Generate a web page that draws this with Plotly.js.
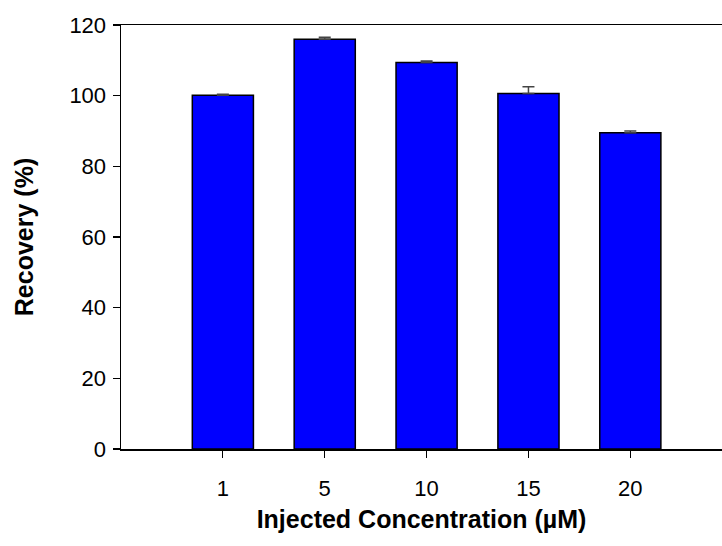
<!DOCTYPE html>
<html>
<head>
<meta charset="utf-8">
<script src="https://cdn.plot.ly/plotly-3.0.1.min.js"></script>
<style>html,body{margin:0;padding:0;background:#fff;}#chart{width:722px;height:546px;}</style>
</head>
<body>
<div id="chart"></div>
<script>
const categories = ["1", "5", "10", "15", "20"];
const recovery = [100.1, 116.0, 109.4, 100.6, 89.5];
const errorPlus = [0.3, 0.5, 0.4, 1.9, 0.5];
const yTickValues = [0, 20, 40, 60, 80, 100, 120];
const xTitle = "Injected Concentration (µM)";
const yTitle = "Recovery (%)";

const trace = {
  type: "bar",
  x: categories.map((c, i) => i),
  y: recovery,
  width: 0.6,
  marker: {color: "#0000FF", line: {color: "#000000", width: 1.5}},
  error_y: {type: "data", symmetric: false, array: errorPlus, arrayminus: errorPlus.map(() => 0),
            color: "#444444", thickness: 1.5, width: 6},
  hoverinfo: "none"
};

const layout = {
  width: 722, height: 546,
  margin: {l: 121, r: 0, t: 25, b: 97},
  paper_bgcolor: "#ffffff", plot_bgcolor: "#ffffff",
  showlegend: false,
  font: {family: "Liberation Sans, Arial, sans-serif", color: "#000000", size: 22},
  xaxis: {
    range: [-1, 4.9],
    tickvals: categories.map((c, i) => i),
    ticktext: categories,
    ticks: "outside", ticklen: 7, tickwidth: 1.2, tickcolor: "#000",
    ticklabelstandoff: 12,
    showline: true, linecolor: "#000", linewidth: 1.5, mirror: true,
    showgrid: false, zeroline: false,
    tickfont: {size: 22},
    title: {text: xTitle, font: {size: 25, family: "Liberation Sans, Arial, sans-serif", weight: "bold"}, standoff: 10}
  },
  yaxis: {
    range: [0, 120],
    tickvals: yTickValues,
    ticks: "outside", ticklen: 7, tickwidth: 1.2, tickcolor: "#000",
    ticklabelstandoff: 2,
    showline: true, linecolor: "#000", linewidth: 1.5,
    showgrid: false, zeroline: false,
    tickfont: {size: 22},
    title: {text: yTitle, font: {size: 25, family: "Liberation Sans, Arial, sans-serif", weight: "bold"}, standoff: 28}
  }
};

Plotly.newPlot("chart", [trace], layout, {displayModeBar: false, staticPlot: true});
</script>
</body>
</html>
